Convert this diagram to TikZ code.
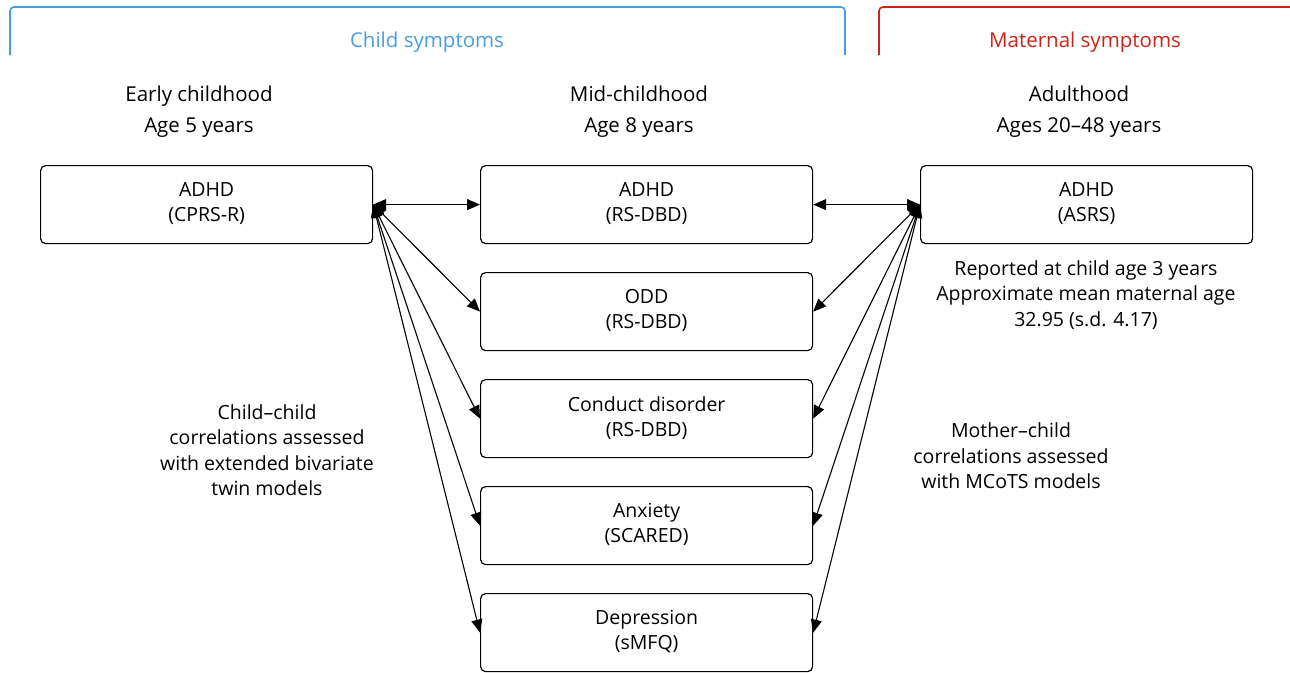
\documentclass[tikz,border=0pt]{standalone}
\usepackage{fontspec}
\setmainfont{Open Sans}
\usetikzlibrary{arrows.meta}
\definecolor{cblue}{HTML}{4A9DE3}
\definecolor{cred}{HTML}{C8261A}
\tikzset{
  box/.style={draw, line width=1.2pt, rounded corners=5pt, minimum width=332pt, minimum height=78pt, inner sep=0pt, anchor=north west},
  boxtxt/.style={anchor=north, yshift=-17pt, align=center, inner sep=0pt, font=\fontsize{19.5}{25}\selectfont},
  lbl/.style={align=center, font=\fontsize{19.5}{25.5}\selectfont},
  hd/.style={font=\fontsize{20.5}{23}\selectfont, text height=14pt, text depth=4pt},
  conn/.style={line width=1.1pt, {Triangle[length=13pt,width=11pt]}-{Triangle[length=13pt,width=11pt]}},
  brk/.style={line width=1.6pt, rounded corners=4pt}
}
\begin{document}
\begin{tikzpicture}[x=1pt,y=-1pt]
\useasboundingbox (0,0) rectangle (1290,672);
% brackets
\draw[brk, cblue] (10,55) -- (10,7) -- (845,7) -- (845,55);
\node[hd, text=cblue] (childhdr) at (427,42) {Child symptoms};
\draw[brk, cred] (879,55) -- (879,7) -- (1295,7);
\node[hd, text=cred] (mathdr) at (1085,42) {Maternal symptoms};
% headings
\node[hd] (h1) at (199,96) {Early childhood};
\node[hd] (a1) at (199,127) {Age 5 years};
\node[hd] (h2) at (639,96) {Mid-childhood};
\node[hd] (a2) at (639,127) {Age 8 years};
\node[hd] (h3) at (1079,96) {Adulthood};
\node[hd] (a3) at (1079,127) {Ages 20--48 years};
% boxes
\node[box, label={[boxtxt]north:{ADHD\\(CPRS-R)}}] (L) at (40,165) {};
\node[box, label={[boxtxt]north:{ADHD\\(RS-DBD)}}] (M1) at (480,165) {};
\node[box, label={[boxtxt]north:{ODD\\(RS-DBD)}}] (M2) at (480,272) {};
\node[box, label={[boxtxt]north:{Conduct disorder\\(RS-DBD)}}] (M3) at (480,379) {};
\node[box, label={[boxtxt]north:{Anxiety\\(SCARED)}}] (M4) at (480,486) {};
\node[box, label={[boxtxt]north:{Depression\\(sMFQ)}}] (M5) at (480,593) {};
\node[box, label={[boxtxt]north:{ADHD\\(ASRS)}}] (R) at (920,165) {};
% connectors
\foreach \m in {M1,M2,M3,M4,M5} {
  \draw[conn] (L.east) -- (\m.west);
  \draw[conn] (R.west) -- (\m.east);
}
% notes
\node[lbl] (rnote) at (1086,295) {Reported at child age 3 years\\Approximate mean maternal age\\32.95 (s.d. 4.17)};
\node[lbl] (lnote) at (267,450) {Child--child\\correlations assessed\\with extended bivariate\\twin models};
\node[lbl] (mnote) at (1011,456) {Mother--child\\correlations assessed\\with MCoTS models};
\end{tikzpicture}
\end{document}
